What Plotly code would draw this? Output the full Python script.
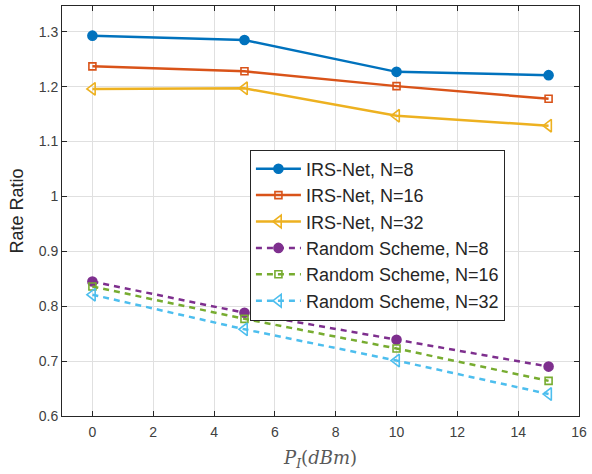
import plotly.graph_objects as go

# Transmit power levels (dBm)
p_dbm = [0, 5, 10, 15]

# Rate ratio per scheme and number of IRS elements
irs_n8 = [1.293, 1.285, 1.227, 1.221]
irs_n16 = [1.237, 1.228, 1.201, 1.178]
irs_n32 = [1.196, 1.197, 1.147, 1.129]
rand_n8 = [0.845, 0.788, 0.739, 0.690]
rand_n16 = [0.836, 0.777, 0.723, 0.664]
rand_n32 = [0.821, 0.758, 0.701, 0.640]

y_ticks = [0.6, 0.7, 0.8, 0.9, 1.0, 1.1, 1.2, 1.3]
y_tick_text = ["0.6", "0.7", "0.8", "0.9", "1", "1.1", "1.2", "1.3"]
x_ticks = [0, 2, 4, 6, 8, 10, 12, 14, 16]

series = [
    ("IRS-Net, N=8", irs_n8, "#0072BD", "circle", "solid"),
    ("IRS-Net, N=16", irs_n16, "#D95319", "square-open", "solid"),
    ("IRS-Net, N=32", irs_n32, "#EDB120", "triangle-left-open", "solid"),
    ("Random Scheme, N=8", rand_n8, "#7E2F8E", "circle", "6px,5px"),
    ("Random Scheme, N=16", rand_n16, "#77AC30", "square-open", "6px,5px"),
    ("Random Scheme, N=32", rand_n32, "#4DBEEE", "triangle-left-open", "6px,5px"),
]

fig = go.Figure()
for name, vals, color, symbol, dash in series:
    size = 9 if symbol == "circle" else 7
    if symbol.startswith("triangle"):
        size = 11
    fig.add_trace(go.Scatter(
        x=p_dbm, y=vals, name=name, mode="lines+markers",
        line=dict(color=color, width=2.5, dash=dash),
        marker=dict(symbol=symbol, size=size, color=color,
                    line=dict(color=color, width=1.6)),
    ))

axis_common = dict(
    showline=True, linecolor="#262626", linewidth=1, mirror="ticks",
    ticks="inside", ticklen=5, tickcolor="#262626",
    showgrid=True, gridcolor="#e0e0e0", gridwidth=1, zeroline=False,
    tickfont=dict(family="Liberation Sans, Arial, sans-serif", size=14, color="#404040"),
)

fig.update_layout(
    width=592, height=474,
    margin=dict(l=62, r=10, t=5, b=58),
    paper_bgcolor="white", plot_bgcolor="white",
    font=dict(family="Liberation Sans, Arial, sans-serif"),
    xaxis=dict(range=[-1, 16], tickvals=x_ticks, ticklabelstandoff=3,
               title=dict(text="<i>P</i><sub><i>I</i></sub>(<i>dBm</i>)",
                          font=dict(family="DejaVu Serif, serif", size=18, color="#595959"),
                          standoff=12),
               **axis_common),
    yaxis=dict(range=[0.6, 1.347], tickvals=y_ticks, ticktext=y_tick_text,
               title=dict(text="Rate Ratio",
                          font=dict(family="Liberation Sans, Arial, sans-serif", size=18, color="#262626"),
                          standoff=10),
               **axis_common),
    legend=dict(x=0.3635, y=0.65, xanchor="left", yanchor="top",
                bgcolor="white", bordercolor="#262626", borderwidth=1,
                font=dict(family="Liberation Sans, Arial, sans-serif", size=18, color="#262626"),
                itemwidth=45, tracegroupgap=0),
    showlegend=True,
)

fig.write_html("out.html")
